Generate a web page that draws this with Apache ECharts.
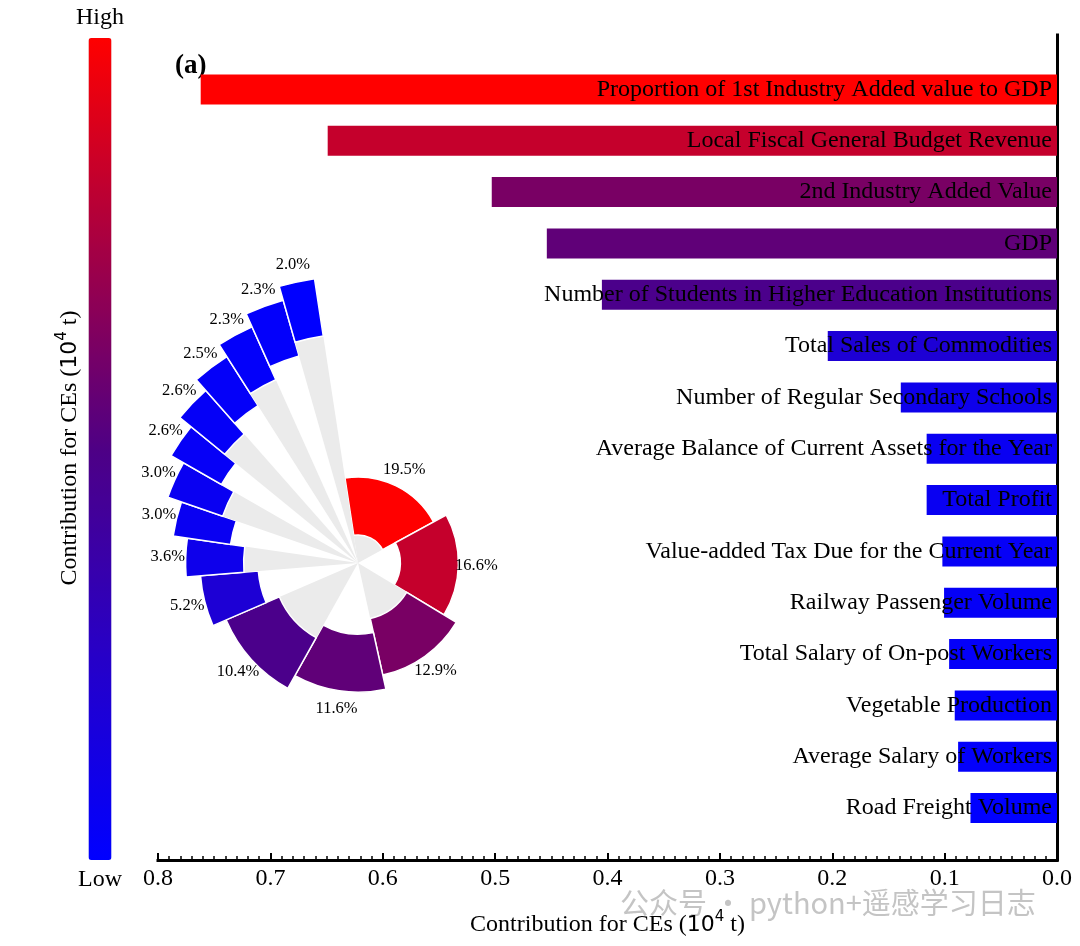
<!DOCTYPE html>
<html>
<head>
<meta charset="utf-8">
<title>Contribution for CEs</title>
<script src="https://cdn.jsdelivr.net/npm/echarts@6/dist/echarts.min.js"></script>
<style>
  html, body { margin: 0; padding: 0; background: #fff; }
  #main { width: 1080px; height: 946px; }
</style>
</head>
<body>
<div id="main"></div>
<script>
// ── data ──
var categories = [
  'Proportion of 1st Industry Added value to GDP',
  'Local Fiscal General Budget Revenue',
  '2nd Industry Added Value',
  'GDP',
  'Number of Students in Higher Education Institutions',
  'Total Sales of Commodities',
  'Number of Regular Secondary Schools',
  'Average Balance of Current Assets for the Year',
  'Total Profit',
  'Value-added Tax Due for the Current Year',
  'Railway Passenger Volume',
  'Total Salary of On-post Workers',
  'Vegetable Production',
  'Average Salary of Workers',
  'Road Freight Volume'
];
// contribution for CEs (10^4 t), same order as categories
var contributions = [0.762, 0.649, 0.503, 0.454, 0.405, 0.204, 0.139, 0.116, 0.116, 0.102, 0.1005, 0.096, 0.091, 0.088, 0.077];
// shares printed on the rose chart (%)
var sharePercents = [19.5, 16.6, 12.9, 11.6, 10.4, 5.2, 3.6, 3.0, 3.0, 2.6, 2.6, 2.5, 2.3, 2.3, 2.0];
var xMin = 0, xMax = 0.8, xStep = 0.1;
var colorbarText = ['High', 'Low'];

// ── styling / layout ──
var SERIF = '"Liberation Serif", "Times New Roman", serif';
var SANS = '"DejaVu Sans", sans-serif';
var RAMP = ['#0000ff', '#2700c7', '#4e0085', '#a70042', '#ff0000'];
var RING_BASE = 28, RING_STEP = 14.4, RING_WIDTH = 58, LABEL_GAP = 18;

var shareTotal = sharePercents.reduce(function (s, v) { return s + v; }, 0);
var roseData = [];
(function () {
  var acc = 0;
  sharePercents.forEach(function (s, i) {
    roseData.push([contributions[i], acc, acc + s, s]);
    acc += s;
  });
})();

var titleRich = {
  a: { fontFamily: SERIF, fontSize: 24, color: '#000', lineHeight: 30 },
  b: { fontFamily: SANS, fontSize: 22, color: '#000', lineHeight: 30 },
  c: { fontFamily: SANS, fontSize: 15, color: '#000', lineHeight: 17, verticalAlign: 'top' }
};
var titleText = '{a|Contribution for CEs (}{b|10}{c|4}{a| t)}';

function renderRose(params, api) {
  var i = params.dataIndex;
  var a = api.value(1), b = api.value(2), share = api.value(3);
  var inner = RING_BASE + i * RING_STEP, outer = inner + RING_WIDTH;
  var c = api.coord([0, a]);
  var pIn = api.coord([inner, a]);
  var pA = api.coord([outer, a]);
  var pB = api.coord([outer, b]);
  var rIn = Math.hypot(pIn[0] - c[0], pIn[1] - c[1]);
  var rOut = Math.hypot(pA[0] - c[0], pA[1] - c[1]);
  var a0 = Math.atan2(pA[1] - c[1], pA[0] - c[0]);
  var a1 = Math.atan2(pB[1] - c[1], pB[0] - c[0]);
  if (a1 <= a0) a1 += Math.PI * 2;
  var kids = [];
  if (i % 2 === 0) {
    kids.push({
      type: 'sector',
      shape: { cx: c[0], cy: c[1], r0: 0, r: rIn, startAngle: a0, endAngle: a1, clockwise: true },
      style: { fill: '#ebebeb' }
    });
  }
  kids.push({
    type: 'sector',
    shape: { cx: c[0], cy: c[1], r0: rIn, r: rOut, startAngle: a0, endAngle: a1, clockwise: true },
    style: { fill: api.visual('color'), stroke: '#fff', lineWidth: 1.5 }
  });
  var pl = api.coord([outer + LABEL_GAP, (a + b) / 2]);
  kids.push({
    type: 'text', z2: 10,
    style: {
      text: share.toFixed(1) + '%', x: pl[0], y: pl[1],
      align: 'center', verticalAlign: 'middle',
      fontFamily: SERIF, fontSize: 16.5, fill: '#000'
    }
  });
  return { type: 'group', children: kids };
}

var chart = echarts.init(document.getElementById('main'));
chart.setOption({
  animation: false,
  backgroundColor: '#fff',
  grid: [
    { left: 158, right: 23, top: 63.8, height: 769.9 },   // bars
    { left: 158, right: 23, top: 35, height: 825 }        // frame axes
  ],
  xAxis: [
    { gridIndex: 0, type: 'value', min: xMin, max: xMax, inverse: true, show: false },
    {
      gridIndex: 1, type: 'value', min: xMin, max: xMax, interval: xStep, inverse: true,
      axisLine: { show: true, lineStyle: { color: '#000', width: 3, cap: 'square' } },
      axisTick: { show: true, inside: true, length: 7, lineStyle: { color: '#000', width: 2 } },
      minorTick: { show: true, splitNumber: 10, length: 4, lineStyle: { color: '#000', width: 1.5 } },
      splitLine: { show: false },
      axisLabel: {
        margin: 7, fontFamily: SERIF, fontSize: 24, color: '#000',
        formatter: function (v) { return v.toFixed(1); }
      },
      name: titleText, nameLocation: 'middle', nameGap: 50,
      nameTextStyle: { rich: titleRich }
    }
  ],
  yAxis: [
    {
      gridIndex: 0, type: 'category', data: categories, inverse: true, position: 'right', z: 10,
      axisLine: { show: false }, axisTick: { show: false },
      axisLabel: { inside: true, margin: 5, fontFamily: SERIF, fontSize: 24, color: '#000' }
    },
    {
      gridIndex: 1, type: 'value', min: 0, max: 1, position: 'right',
      axisLine: { show: true, lineStyle: { color: '#000', width: 3, cap: 'square' } },
      axisTick: { show: false }, axisLabel: { show: false }, splitLine: { show: false }
    }
  ],
  polar: { center: [358, 563], radius: 320 },
  radiusAxis: { type: 'value', min: 0, max: 320, show: false },
  angleAxis: { type: 'value', min: 0, max: shareTotal, startAngle: 98.7, clockwise: true, show: false },
  visualMap: {
    type: 'continuous',
    min: Math.min.apply(null, contributions),
    max: Math.max.apply(null, contributions),
    dimension: 0, seriesIndex: [0, 1],
    calculable: false, hoverLink: false,
    orient: 'vertical', left: 76, top: 6, padding: 0,
    itemWidth: 23, itemHeight: 822, textGap: 8,
    text: colorbarText,
    textStyle: { fontFamily: SERIF, fontSize: 24, color: '#000' },
    inRange: { color: RAMP }
  },
  series: [
    {
      type: 'bar', xAxisIndex: 0, yAxisIndex: 0, barWidth: 30, silent: true,
      encode: { x: 0, y: 1 },
      data: contributions.map(function (v, i) { return [v, categories[i]]; })
    },
    {
      type: 'custom', coordinateSystem: 'polar', polarIndex: 0, silent: true, z: 3,
      renderItem: renderRose, data: roseData
    }
  ],
  graphic: [
    {
      type: 'text', x: 175, y: 53,
      style: { text: '(a)', fontFamily: SERIF, fontWeight: 'bold', fontSize: 27, fill: '#000' }
    },
    {
      type: 'text', x: 70, y: 448, rotation: Math.PI / 2,
      style: { text: titleText, rich: titleRich, align: 'center', verticalAlign: 'middle' }
    },
    {
      type: 'text', x: 620, y: 903,
      style: {
        text: '公众号 · python+遥感学习日志', align: 'left', verticalAlign: 'middle',
        fontFamily: '"Noto Sans CJK SC", sans-serif', fontSize: 29, fill: '#c4c4c4'
      }
    }
  ]
});
</script>
</body>
</html>
